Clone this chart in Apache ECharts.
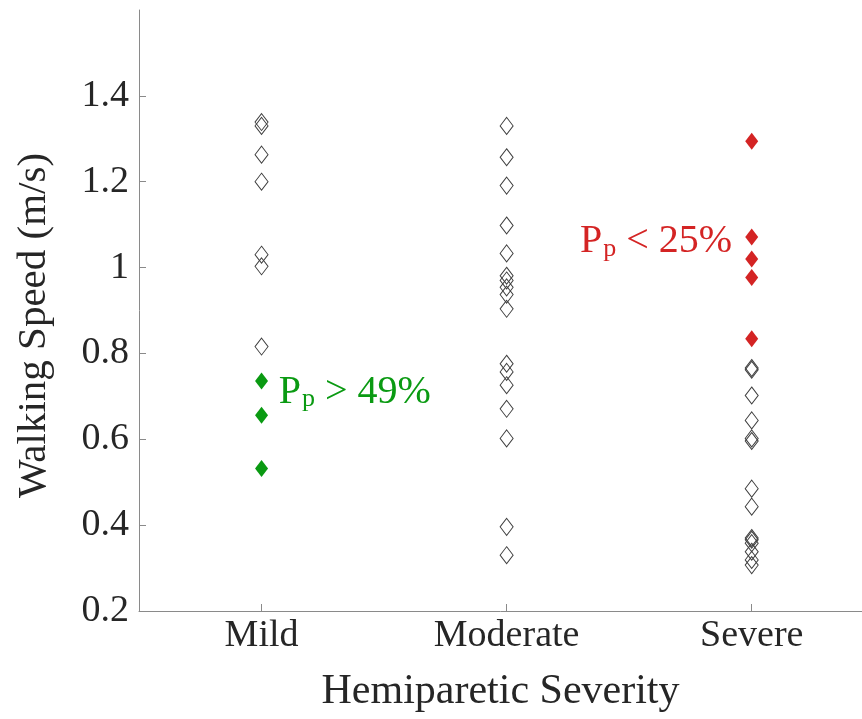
<html lang="en">
<head>
    <meta charset="UTF-8">
    <title>Walking Speed</title>
    <script src="https://cdn.jsdelivr.net/npm/echarts@6/dist/echarts.min.js"></script>
    <style>
        body { margin: 0; background: #fff; }
        #chart { width: 862px; height: 719px; }
    </style>
</head>
<body>
<div id="chart"></div>
<script type="text/javascript">
    // categories on the x axis (placed at 1, 2, 3)
    var categories = ['Mild', 'Moderate', 'Severe'];
    var yTicks = [0.2, 0.4, 0.6, 0.8, 1.0, 1.2, 1.4];

    // walking speed (m/s)
    var mildOpen = [1.339, 1.330, 1.263, 1.200, 1.030, 1.003, 0.816];
    var mildGreen = [0.736, 0.656, 0.532];
    var moderateOpen = [1.330, 1.257, 1.191, 1.098, 1.033, 0.981, 0.970, 0.954, 0.937, 0.904,
        0.776, 0.757, 0.726, 0.671, 0.602, 0.396, 0.330];
    var severeOpen = [0.766, 0.762, 0.702, 0.644, 0.602, 0.596, 0.485, 0.443,
        0.370, 0.366, 0.358, 0.338, 0.319, 0.307];
    var severeRed = [1.294, 1.071, 1.020, 0.977, 0.834];

    var serif = '"Liberation Serif", "Times New Roman", serif';
    var green = '#0a9a12';
    var red = '#d42424';

    function at(xpos, list) {
        return list.map(function (v) { return [xpos, v]; });
    }

    var openStyle = {color: 'rgba(0,0,0,0)', borderColor: '#404040', borderWidth: 1, opacity: 1};

    var option = {
        animation: false,
        grid: {left: 139, right: 0, top: 10, bottom: 108},
        xAxis: {
            type: 'value',
            min: 0.5,
            max: 3.45,
            splitLine: {show: false},
            axisLine: {lineStyle: {color: '#8a8a8a', width: 1}},
            axisTick: {show: true, inside: true, length: 7, customValues: [1, 2, 3], lineStyle: {color: '#8a8a8a'}},
            axisLabel: {
                customValues: [1, 2, 3],
                formatter: function (v) { return categories[Math.round(v) - 1]; },
                color: '#262626', fontFamily: serif, fontSize: 38, margin: 6
            },
            name: 'Hemiparetic Severity',
            nameLocation: 'middle',
            nameGap: 60,
            nameTextStyle: {color: '#262626', fontFamily: serif, fontSize: 42}
        },
        yAxis: {
            type: 'value',
            min: 0.2,
            max: 1.6,
            interval: 0.2,
            splitLine: {show: false},
            axisLine: {show: true, lineStyle: {color: '#8a8a8a', width: 1}},
            axisTick: {show: true, inside: true, length: 7, customValues: yTicks, lineStyle: {color: '#8a8a8a'}},
            axisLabel: {
                customValues: yTicks,
                formatter: function (v) { return Math.abs(v - 1) < 1e-9 ? '1' : v.toFixed(1); },
                color: '#262626', fontFamily: serif, fontSize: 38, margin: 10
            },
            name: 'Walking Speed (m/s)',
            nameLocation: 'middle',
            nameGap: 84,
            nameTextStyle: {color: '#262626', fontFamily: serif, fontSize: 41, padding: [0, 30, 0, 0]}
        },
        series: [
            {type: 'scatter', symbol: 'diamond', symbolSize: [13, 17], itemStyle: openStyle, data: at(1, mildOpen)},
            {type: 'scatter', symbol: 'diamond', symbolSize: [13, 17], itemStyle: openStyle, data: at(2, moderateOpen)},
            {type: 'scatter', symbol: 'diamond', symbolSize: [13, 17], itemStyle: openStyle, data: at(3, severeOpen)},
            {
                type: 'scatter', symbol: 'diamond', symbolSize: [13, 17],
                itemStyle: {color: green, opacity: 1}, data: at(1, mildGreen),
                markPoint: {
                    symbolSize: 0,
                    data: [{coord: [1.07, 0.71]}],
                    label: {
                        show: true, position: 'right', distance: 0,
                        formatter: '{a|P}{b|p}{a| > 49%}',
                        rich: {
                            a: {fontFamily: serif, fontSize: 40, color: green},
                            b: {fontFamily: serif, fontSize: 26, color: green, padding: [14, 0, 0, 1]}
                        }
                    }
                }
            },
            {
                type: 'scatter', symbol: 'diamond', symbolSize: [13, 17],
                itemStyle: {color: red, opacity: 1}, data: at(3, severeRed),
                markPoint: {
                    symbolSize: 0,
                    data: [{coord: [2.92, 1.06]}],
                    label: {
                        show: true, position: 'left', distance: 0,
                        formatter: '{a|P}{b|p}{a| < 25%}',
                        rich: {
                            a: {fontFamily: serif, fontSize: 40, color: red},
                            b: {fontFamily: serif, fontSize: 26, color: red, padding: [14, 0, 0, 1]}
                        }
                    }
                }
            }
        ]
    };

    var myChart = echarts.init(document.getElementById('chart'));
    myChart.setOption(option);
</script>
</body>
</html>
